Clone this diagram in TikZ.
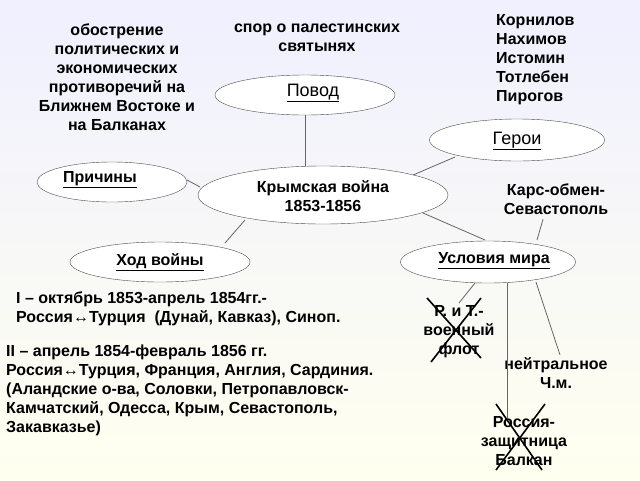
\documentclass[tikz,border=0pt]{standalone}
\usepackage{fontspec}
\setmainfont{Liberation Sans}
\usetikzlibrary{shapes.geometric}
\begin{document}
\begin{tikzpicture}[x=1pt,y=-1pt,
 ttl/.style={font=\fontsize{18}{20}\selectfont},
 txt/.style={font=\bfseries\fontsize{16}{19}\selectfont,align=center,inner sep=0pt},
 ln/.style={draw=black!60,line width=0.8pt},
 xx/.style={line width=1.6pt}]
\useasboundingbox (0,0) rectangle (640,480);
\shade[top color=blue!6,bottom color=yellow!6] (0,0) rectangle (640,480);
\node[draw=black!70,ellipse,fill=white,minimum width=180,minimum height=40] (povod) at (305,95) {};
\node[ttl] at (313,93) {\underline{Повод}};
\node[draw=black!70,ellipse,fill=white,minimum width=175,minimum height=42] (geroi) at (517,140) {};
\node[ttl] at (517,141) {\underline{Герои}};
\node[draw=black!70,ellipse,fill=white,minimum width=150,minimum height=40] (prich) at (112,182) {};
\node[txt] at (100,180) {\underline{Причины}};
\node[draw=black!70,ellipse,fill=white,minimum width=180,minimum height=40] (hod) at (160,262) {};
\node[txt] at (160,262) {\underline{Ход войны}};
\node[draw=black!70,ellipse,fill=white,minimum width=175,minimum height=42] (usl) at (488,262) {};
\node[txt] at (494,261) {\underline{Условия мира}};
\node[draw=black!70,ellipse,fill=white,minimum width=250,minimum height=58] (krym) at (323,195) {};
\node[txt] at (323,196) {Крымская война\\1853-1856};
\path (povod.south) ++(0,0) coordinate (pv) (krym.north) ++(-18,0) coordinate (kv);
\draw[ln] (pv) -- (kv);
\path (geroi) ++(-62,17) coordinate (g1) (krym) ++(90,-20) coordinate (k1);
\draw[ln] (g1) -- (k1);
\path (krym) ++(-123,-8) coordinate (k2) (prich) ++(75,-2) coordinate (p2); \draw[ln] (k2) -- (p2);
\path (krym) ++(-78,25) coordinate (k3) (hod) ++(65,-19) coordinate (h3); \draw[ln] (k3) -- (h3);
\path (krym) ++(100,18) coordinate (k4) (usl) ++(-3,-22) coordinate (u4); \draw[ln] (k4) -- (u4);
\node[txt,anchor=north] (op) at (117,24) {обострение\\политических и\\экономических\\противоречий на\\Ближнем Востоке и\\на Балканах};
\node[txt,anchor=north] (spor) at (317,24) {спор о палестинских\\святынях};
\node[txt,anchor=north west,align=left] (her) at (496,14) {Корнилов\\Нахимов\\Истомин\\Тотлебен\\Пирогов};
\node[txt,anchor=north] (kars) at (556,184) {Карс-обмен-\\Севастополь};
\path (kars.south) ++(-13,4) coordinate (ks) (usl) ++(49,-22) coordinate (uk); \draw[ln] (ks) -- (uk);
\node[txt,anchor=north west,align=left] (p1) at (16,292) {I – октябрь 1853-апрель 1854гг.-\\Россия↔Турция\ \ (Дунай, Кавказ), Синоп.};
\node[txt,anchor=north west,align=left] (p2t) at (6,345) {II – апрель 1854-февраль 1856 гг.\\Россия↔Турция, Франция, Англия, Сардиния.\\(Аландские о-ва, Соловки, Петропавловск-\\Камчатский, Одесса, Крым, Севастополь,\\Закавказье)};
\node[txt,anchor=north] (rt) at (459,305) {Р. и Т.-\\военный\\флот};
\node[txt,anchor=north] (neu) at (556,357) {нейтральное\\Ч.м.};
\node[txt,anchor=north] (ros) at (524,416) {Россия-\\защитница\\Балкан};
\path (usl) ++(-13,21) coordinate (ua) (rt.north) ++(0,-2) coordinate (ra); \draw[ln] (ua) -- (ra);
\path (usl) ++(19,21) coordinate (ub) (usl) ++(19,158) coordinate (rb); \draw[ln] (ub) -- (rb);
\path (usl) ++(48,20) coordinate (uc) (neu.north) ++(4,-2) coordinate (nc); \draw[ln] (uc) -- (nc);
\draw[xx] (427,298) -- (481,358) (481,298) -- (431,362);
\draw[xx] (496,404) -- (542,470) (545,404) -- (496,470);
\end{tikzpicture}
\end{document}
